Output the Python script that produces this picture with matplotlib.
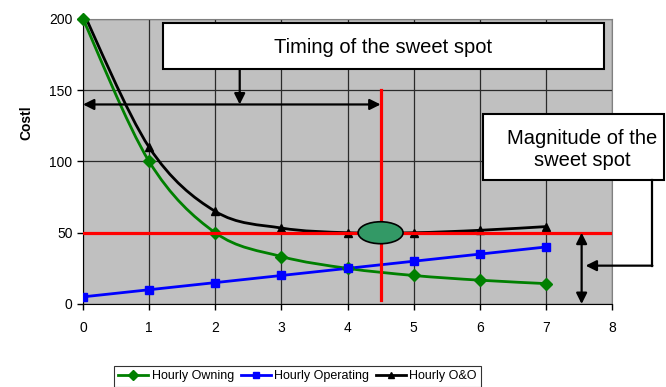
import numpy as np
import matplotlib.pyplot as plt
from matplotlib.path import Path
from matplotlib.patches import PathPatch, Ellipse, Rectangle
from matplotlib.lines import Line2D

plt.rcParams['font.family'] = ['Liberation Sans', 'DejaVu Sans']

# data
years = [0, 1, 2, 3, 4, 5, 6, 7]
hourly_owning = [200, 100, 50, 33.3, 25, 20, 16.7, 14.3]
hourly_operating = [5, 10, 15, 20, 25, 30, 35, 40]
hourly_oo = [205, 110, 65, 53.3, 50, 50, 51.7, 54.3]
series_names = ['Hourly Owning', 'Hourly Operating', 'Hourly O&O']

sweet_x = 4.5
sweet_y = 50


def smooth_path(x, y):
    # excel-like smoothed line, built as bezier segments
    x = np.asarray(x, float)
    y = np.asarray(y, float)
    pts = np.column_stack([x, y])
    n = len(pts)
    verts = [pts[0]]
    codes = [Path.MOVETO]
    for i in range(n - 1):
        p0 = pts[max(i - 1, 0)]
        p1 = pts[i]
        p2 = pts[i + 1]
        p3 = pts[min(i + 2, n - 1)]
        c1 = p1 + (p2 - p0) / 6.0
        c2 = p2 - (p3 - p1) / 6.0
        verts += [c1, c2, p2]
        codes += [Path.CURVE4] * 3
    return Path(verts, codes)


fig = plt.figure(figsize=(6.66, 3.87), dpi=100)
ax = fig.add_axes([0.1246, 0.2145, 0.7944, 0.7365])
ax.set_facecolor('#C0C0C0')

styles = [('#008000', 'D'), ('#0000FF', 's'), ('black', '^')]
handles = []
for vals, name, (col, mk) in zip([hourly_owning, hourly_operating, hourly_oo], series_names, styles):
    ax.add_patch(PathPatch(smooth_path(years, vals), facecolor='none', edgecolor=col, lw=2, zorder=3))
    # owning markers stay visible at the top edge, the O&O point above 200 does not
    ax.plot(years, vals, linestyle='none', marker=mk, color=col, markersize=6, zorder=4,
            clip_on=(name != 'Hourly Owning'))
    handles.append(Line2D([], [], color=col, marker=mk, markersize=5, lw=2, label=name))

ax.set_xlim(0, 8)
ax.set_ylim(0, 200)
ax.set_xticks(range(0, 9))
ax.set_yticks([0, 50, 100, 150, 200])
ax.tick_params(direction='out', length=4, width=1, labelsize=10, colors='black')
ax.tick_params(axis='x', pad=8)
ax.grid(True, color='#2a2a2a', lw=0.9, zorder=1)
ax.set_axisbelow(True)
for s in ['top', 'right']:
    ax.spines[s].set_color('#808080')
for s in ['left', 'bottom']:
    ax.spines[s].set_color('black')
ax.set_ylabel('Costl', fontsize=10, fontweight='bold')
ax.yaxis.set_label_coords(-0.093, 0.635)

# sweet spot lines and marker
ax.axhline(sweet_y, color='#FF0000', lw=2.3, zorder=5)
ax.plot([sweet_x, sweet_x], [3, 150], color='#FF0000', lw=2.3, zorder=5)
ax.add_patch(Ellipse((sweet_x, sweet_y), 0.68, 15.4, facecolor='#339966', edgecolor='black', lw=1.2, zorder=6))

arrow = dict(arrowstyle='-|>', color='black', lw=1.6, mutation_scale=16, shrinkA=0, shrinkB=0)
darrow = dict(arrowstyle='<|-|>', color='black', lw=1.6, mutation_scale=16, shrinkA=0, shrinkB=0)

# timing annotation
ax.add_patch(Rectangle((1.21, 164.7), 6.67, 32.7, facecolor='white', edgecolor='black', lw=1.5, zorder=7, clip_on=False))
ax.text((1.21 + 7.88) / 2, 180, 'Timing of the sweet spot', ha='center', va='center', fontsize=14.5, zorder=8)
ax.annotate('', xy=(0, 140), xytext=(sweet_x, 140), arrowprops=darrow, annotation_clip=False, zorder=7)
ax.annotate('', xy=(2.37, 140), xytext=(2.37, 164.7), arrowprops=arrow, annotation_clip=False, zorder=7)

# magnitude annotation
ax.add_patch(Rectangle((6.05, 87), 2.74, 46.3, facecolor='white', edgecolor='black', lw=1.5, zorder=7, clip_on=False))
ax.text(7.55, 108.4, 'Magnitude of the\nsweet spot', ha='center', va='center', fontsize=14.5, linespacing=1.25, zorder=8)
ax.annotate('', xy=(7.54, 0), xytext=(7.54, sweet_y), arrowprops=darrow, annotation_clip=False, zorder=7)
ax.plot([8.61, 8.61], [87, 26.9], color='black', lw=1.6, clip_on=False, zorder=7)
ax.annotate('', xy=(7.6, 26.9), xytext=(8.61, 26.9), arrowprops=arrow, annotation_clip=False, zorder=7)

leg = fig.legend(handles=handles, loc='upper center', bbox_to_anchor=(0.447, 0.054), ncol=3,
                 fontsize=9, frameon=True, fancybox=False, edgecolor='black', handlelength=2.4,
                 columnspacing=0.5, handletextpad=0.3, borderpad=0.35, borderaxespad=0)
leg.get_frame().set_linewidth(0.8)

fig.savefig('out.png', dpi=100)
